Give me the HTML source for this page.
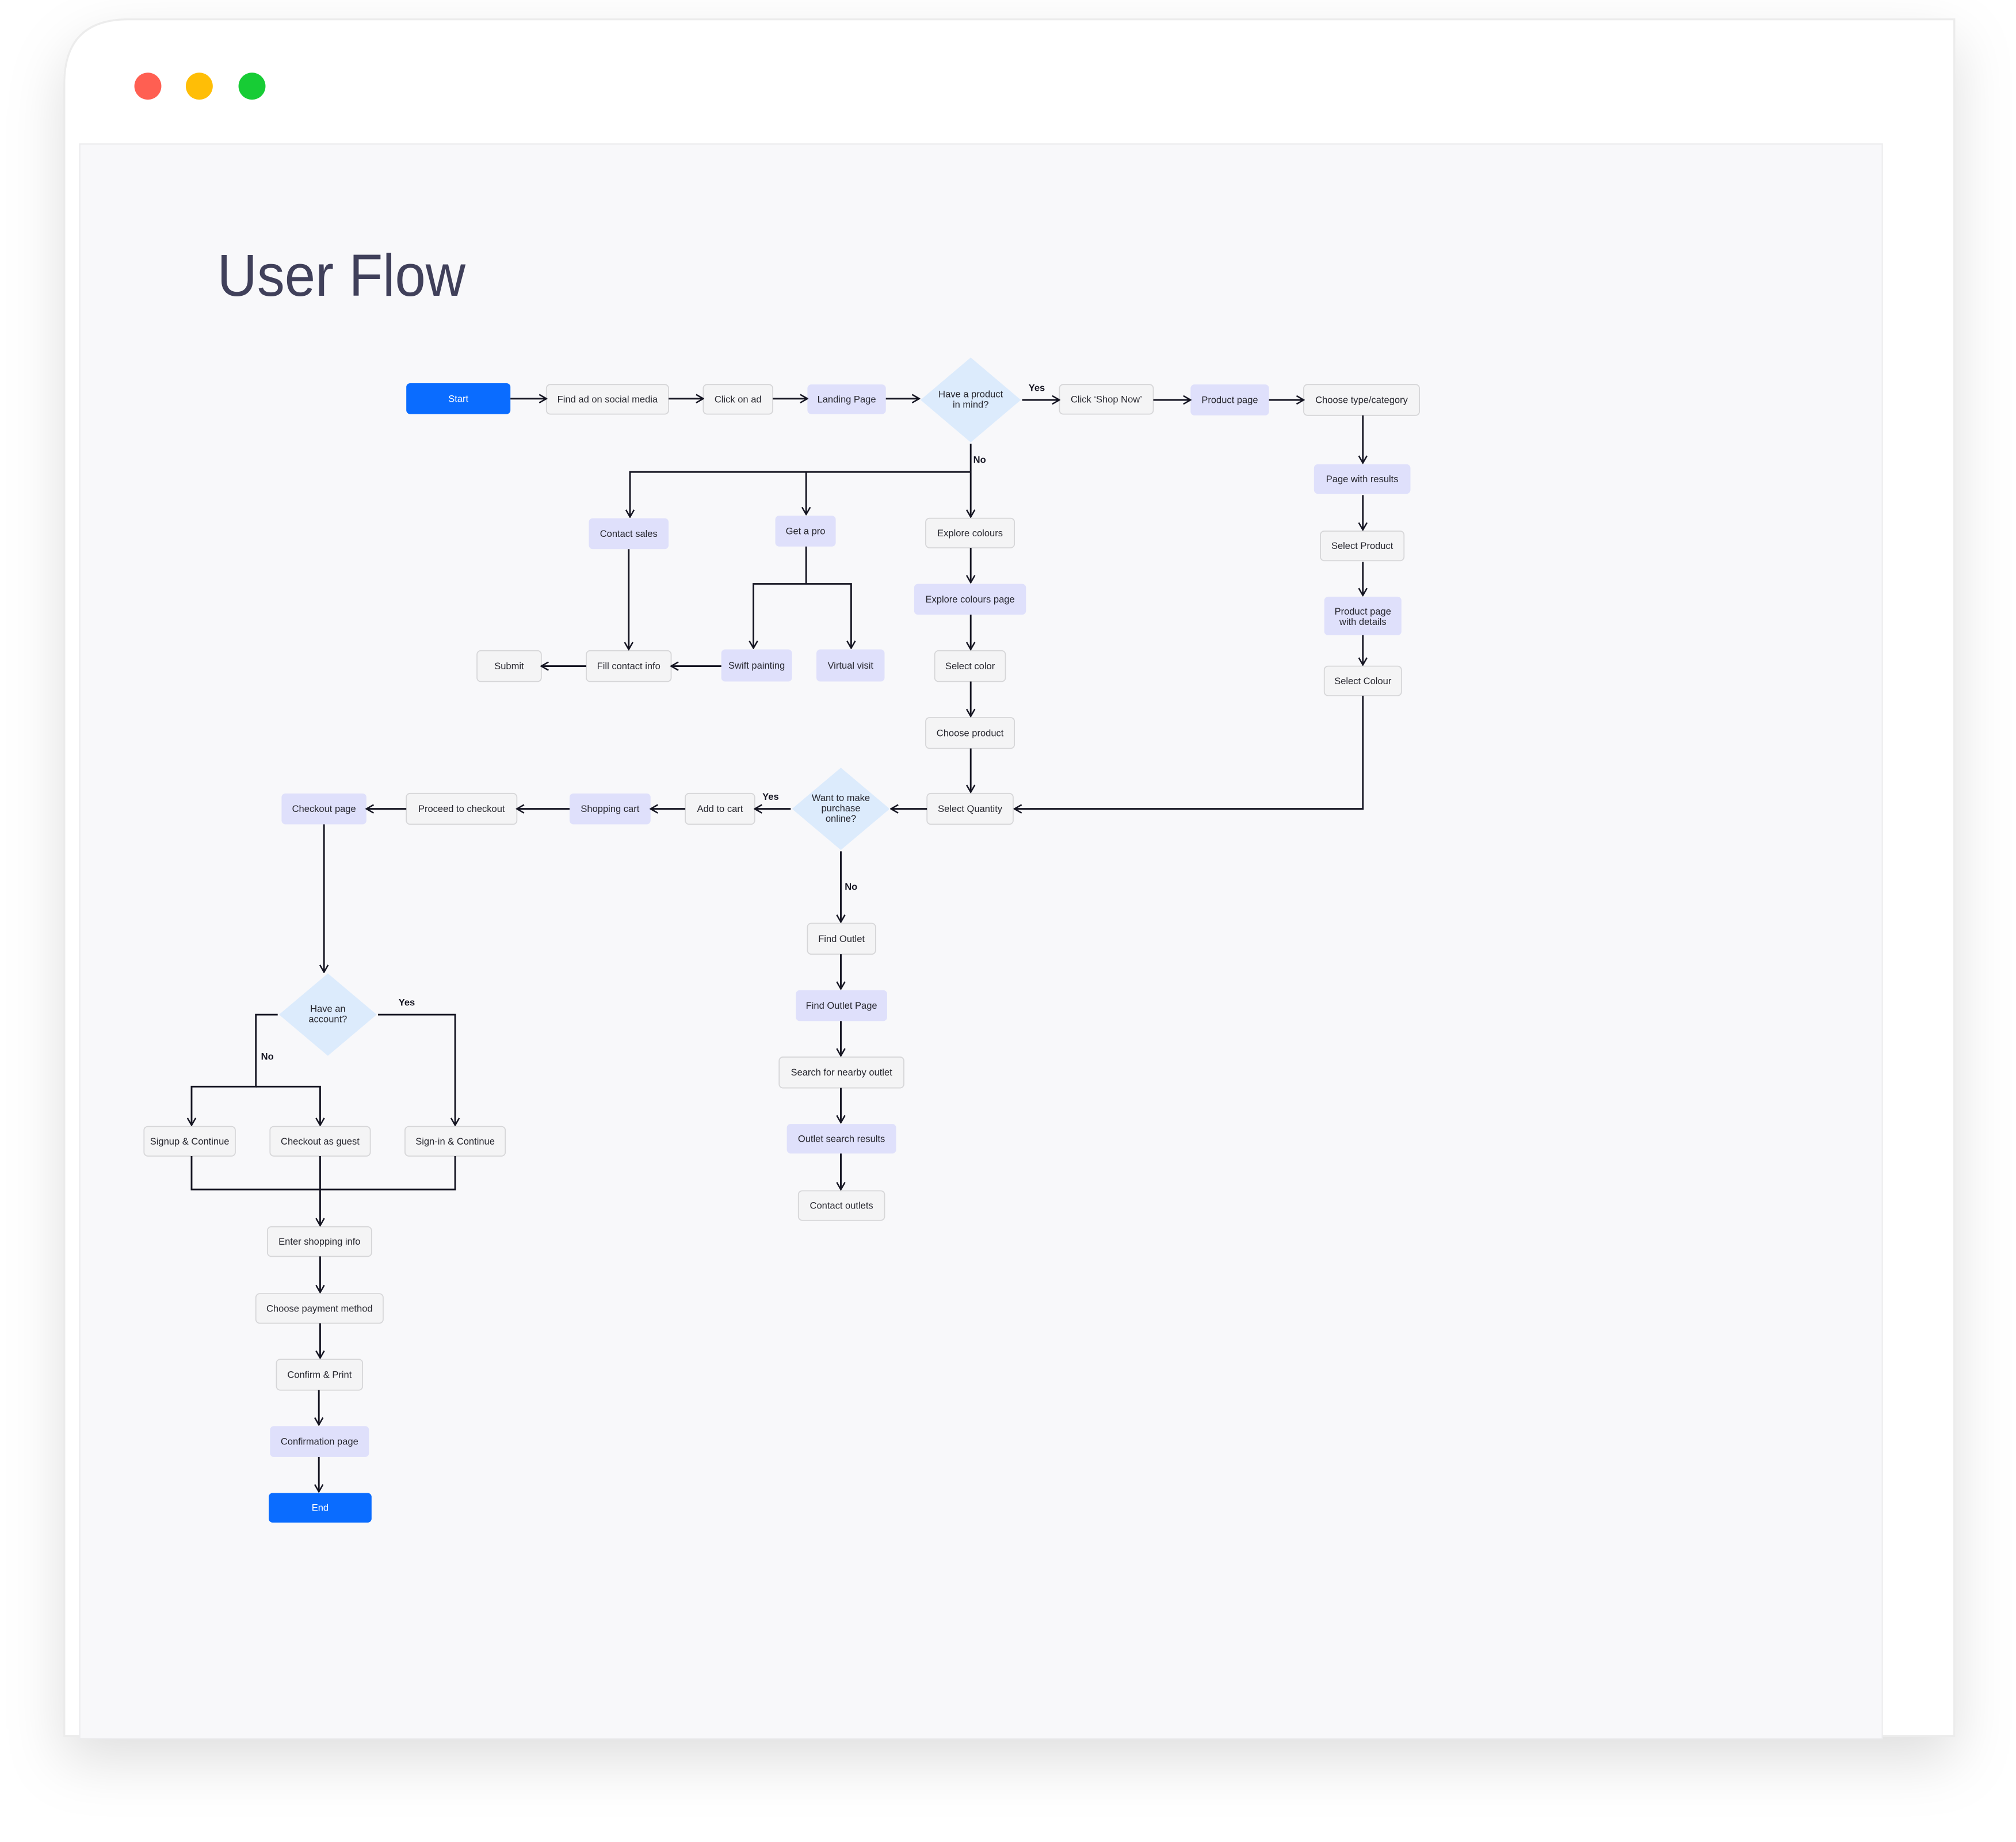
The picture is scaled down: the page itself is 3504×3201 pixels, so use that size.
<!DOCTYPE html>
<html><head><meta charset="utf-8"><style>
html,body{margin:0;padding:0;background:#fff;}
svg{display:block;}
text{font-family:"Liberation Sans",sans-serif;}
</style></head><body>
<svg width="3504" height="3201" viewBox="0 0 1568 1432.4" xmlns="http://www.w3.org/2000/svg">
<defs>
<filter id="sh" x="-10%" y="-10%" width="120%" height="125%">
<feDropShadow dx="0" dy="18" stdDeviation="22" flood-color="#000" flood-opacity="0.13"/>
</filter>
<marker id="a" viewBox="0 0 10 10" refX="9" refY="5" markerWidth="8" markerHeight="8" markerUnits="userSpaceOnUse" orient="auto">
<path d="M2,1 L9,5 L2,9" fill="none" stroke="#151522" stroke-width="1.4"/>
</marker>
<style>
.g{fill:#f4f4f5;stroke:#d6d6d8;stroke-width:0.8}
.l{fill:#dfe0fb}
.b{fill:#0a6cff}
.d{fill:#dcebfc}
.t{font-size:7.4px;fill:#26262e;text-anchor:middle;dominant-baseline:central}
.w{fill:#fff}
.ln{fill:none;stroke:#151522;stroke-width:1.3}
.y{font-size:7.4px;font-weight:bold;fill:#151522}
</style>
</defs>
<rect x="0" y="0" width="1568" height="1432.4" fill="#fff"/>
<path d="M50,1350 L50,65 Q50,15 100,15 L1520,15 L1520,1350 Z" fill="#fff" stroke="#ececec" stroke-width="1.5" filter="url(#sh)"/>
<circle cx="115" cy="67" r="10.5" fill="#ff5f52"/>
<circle cx="155" cy="67" r="10.5" fill="#ffbe06"/>
<circle cx="196" cy="67" r="10.5" fill="#17cc35"/>
<rect x="62" y="112" width="1402" height="1240" fill="#f8f8fa" stroke="#ececee" stroke-width="1"/>
<text x="169" y="230" textLength="193" lengthAdjust="spacingAndGlyphs" style="font-size:46px;fill:#40405a;">User Flow</text>

<!-- Nodes -->
<g>
<rect class="b" x="316" y="298" width="81" height="24" rx="3"/><text class="t w" x="356.5" y="310">Start</text>
<rect class="g" x="425" y="299" width="95" height="23" rx="3"/><text class="t" x="472.5" y="310.5">Find ad on social media</text>
<rect class="g" x="547" y="299" width="54" height="23" rx="3"/><text class="t" x="574" y="310.5">Click on ad</text>
<rect class="l" x="628" y="299" width="61" height="23" rx="3"/><text class="t" x="658.5" y="310.5">Landing Page</text>
<path class="d" d="M755,278 L794,311 L755,344 L716,311 Z"/><text class="t" x="755" y="306.5">Have a product</text><text class="t" x="755" y="314.5">in mind?</text>
<rect class="g" x="824" y="299" width="73" height="23" rx="3"/><text class="t" x="860.5" y="310.5">Click ‘Shop Now’</text>
<rect class="l" x="926" y="299" width="61" height="24" rx="3"/><text class="t" x="956.5" y="311">Product page</text>
<rect class="g" x="1014" y="299" width="90" height="24" rx="3"/><text class="t" x="1059" y="311">Choose type/category</text>
<rect class="l" x="1022" y="361" width="75" height="23" rx="3"/><text class="t" x="1059.5" y="372.5">Page with results</text>
<rect class="g" x="1027" y="413" width="65" height="23" rx="3"/><text class="t" x="1059.5" y="424.5">Select Product</text>
<rect class="l" x="1030" y="464" width="60" height="30" rx="3"/><text class="t" x="1060" y="475.5">Product page</text><text class="t" x="1060" y="483.5">with details</text>
<rect class="g" x="1030" y="518" width="60" height="23" rx="3"/><text class="t" x="1060" y="529.5">Select Colour</text>

<rect class="l" x="458" y="403" width="62" height="24" rx="3"/><text class="t" x="489" y="415">Contact sales</text>
<rect class="l" x="603" y="401" width="47" height="24" rx="3"/><text class="t" x="626.5" y="413">Get a pro</text>
<rect class="g" x="720" y="403" width="69" height="23" rx="3"/><text class="t" x="754.5" y="414.5">Explore colours</text>
<rect class="l" x="711" y="454" width="87" height="24" rx="3"/><text class="t" x="754.5" y="466">Explore colours page</text>
<rect class="g" x="727" y="506" width="55" height="24" rx="3"/><text class="t" x="754.5" y="518">Select color</text>
<rect class="g" x="720" y="558" width="69" height="24" rx="3"/><text class="t" x="754.5" y="570">Choose product</text>
<rect class="g" x="721" y="617" width="67" height="24" rx="3"/><text class="t" x="754.5" y="629">Select Quantity</text>

<rect class="l" x="561" y="505" width="55" height="25" rx="3"/><text class="t" x="588.5" y="517.5">Swift painting</text>
<rect class="l" x="635" y="505" width="53" height="25" rx="3"/><text class="t" x="661.5" y="517.5">Virtual visit</text>
<rect class="g" x="456" y="506" width="66" height="24" rx="3"/><text class="t" x="489" y="518">Fill contact info</text>
<rect class="g" x="371" y="506" width="50" height="24" rx="3"/><text class="t" x="396" y="518">Submit</text>

<path class="d" d="M654,597 L692,629 L654,661 L616,629 Z"/><text class="t" x="654" y="620.5">Want to make</text><text class="t" x="654" y="628.5">purchase</text><text class="t" x="654" y="636.5">online?</text>
<rect class="g" x="533" y="617" width="54" height="24" rx="3"/><text class="t" x="560" y="629">Add to cart</text>
<rect class="l" x="443" y="617" width="63" height="24" rx="3"/><text class="t" x="474.5" y="629">Shopping cart</text>
<rect class="g" x="316" y="617" width="86" height="24" rx="3"/><text class="t" x="359" y="629">Proceed to checkout</text>
<rect class="l" x="219" y="617" width="66" height="24" rx="3"/><text class="t" x="252" y="629">Checkout page</text>

<path class="d" d="M255,757 L293,789 L255,821 L217,789 Z"/><text class="t" x="255" y="784.5">Have an</text><text class="t" x="255" y="792.5">account?</text>
<rect class="g" x="112" y="876" width="71" height="23" rx="3"/><text class="t" x="147.5" y="887.5">Signup &amp; Continue</text>
<rect class="g" x="210" y="876" width="78" height="23" rx="3"/><text class="t" x="249" y="887.5">Checkout as guest</text>
<rect class="g" x="315" y="876" width="78" height="23" rx="3"/><text class="t" x="354" y="887.5">Sign-in &amp; Continue</text>
<rect class="g" x="208" y="954" width="81" height="23" rx="3"/><text class="t" x="248.5" y="965.5">Enter shopping info</text>
<rect class="g" x="199" y="1006" width="99" height="23" rx="3"/><text class="t" x="248.5" y="1017.5">Choose payment method</text>
<rect class="g" x="215" y="1057" width="67" height="24" rx="3"/><text class="t" x="248.5" y="1069">Confirm &amp; Print</text>
<rect class="l" x="210" y="1109" width="77" height="24" rx="3"/><text class="t" x="248.5" y="1121">Confirmation page</text>
<rect class="b" x="209" y="1161" width="80" height="23" rx="3"/><text class="t w" x="249" y="1172.5">End</text>

<rect class="g" x="628" y="718" width="53" height="24" rx="3"/><text class="t" x="654.5" y="730">Find Outlet</text>
<rect class="l" x="619" y="770" width="71" height="24" rx="3"/><text class="t" x="654.5" y="782">Find Outlet Page</text>
<rect class="g" x="606" y="822" width="97" height="24" rx="3"/><text class="t" x="654.5" y="834">Search for nearby outlet</text>
<rect class="l" x="612" y="874" width="85" height="23" rx="3"/><text class="t" x="654.5" y="885.5">Outlet search results</text>
<rect class="g" x="621" y="926" width="67" height="23" rx="3"/><text class="t" x="654.5" y="937.5">Contact outlets</text>
</g>

<!-- Connectors -->
<g class="ln">
<path d="M397,310 H425" marker-end="url(#a)"/>
<path d="M520,310 H547" marker-end="url(#a)"/>
<path d="M601,310 H628" marker-end="url(#a)"/>
<path d="M689,310 H715" marker-end="url(#a)"/>
<path d="M795,311 H824" marker-end="url(#a)"/>
<path d="M897,311 H926" marker-end="url(#a)"/>
<path d="M987,311 H1014" marker-end="url(#a)"/>
<path d="M1060,323 V360" marker-end="url(#a)"/>
<path d="M1060,385 V412" marker-end="url(#a)"/>
<path d="M1060,437 V463" marker-end="url(#a)"/>
<path d="M1060,494 V517" marker-end="url(#a)"/>
<path d="M1060,541 V629 H789" marker-end="url(#a)"/>
<path d="M755,345 V402" marker-end="url(#a)"/>
<path d="M755,367 H490 V402" marker-end="url(#a)"/>
<path d="M627,367 V400" marker-end="url(#a)"/>
<path d="M755,426 V453" marker-end="url(#a)"/>
<path d="M755,478 V505" marker-end="url(#a)"/>
<path d="M755,530 V557" marker-end="url(#a)"/>
<path d="M755,582 V616" marker-end="url(#a)"/>
<path d="M627,425 V454 H586 V504" marker-end="url(#a)"/>
<path d="M627,454 H662 V504" marker-end="url(#a)"/>
<path d="M489,427 V505" marker-end="url(#a)"/>
<path d="M561,518 H522" marker-end="url(#a)"/>
<path d="M456,518 H421" marker-end="url(#a)"/>
<path d="M721,629 H693" marker-end="url(#a)"/>
<path d="M615,629 H587" marker-end="url(#a)"/>
<path d="M533,629 H506" marker-end="url(#a)"/>
<path d="M443,629 H402" marker-end="url(#a)"/>
<path d="M316,629 H285" marker-end="url(#a)"/>
<path d="M252,641 V756" marker-end="url(#a)"/>
<path d="M216,789 H199 V845 H149 V875" marker-end="url(#a)"/>
<path d="M199,845 H249 V875" marker-end="url(#a)"/>
<path d="M294,789 H354 V875" marker-end="url(#a)"/>
<path d="M149,899 V925 H354 V899"/>
<path d="M249,899 V953" marker-end="url(#a)"/>
<path d="M249,977 V1005" marker-end="url(#a)"/>
<path d="M249,1029 V1056" marker-end="url(#a)"/>
<path d="M248,1081 V1108" marker-end="url(#a)"/>
<path d="M248,1133 V1160" marker-end="url(#a)"/>
<path d="M654,662 V717" marker-end="url(#a)"/>
<path d="M654,742 V769" marker-end="url(#a)"/>
<path d="M654,794 V821" marker-end="url(#a)"/>
<path d="M654,846 V873" marker-end="url(#a)"/>
<path d="M654,897 V925" marker-end="url(#a)"/>
</g>
<text class="y" x="800" y="304">Yes</text>
<text class="y" x="757" y="360">No</text>
<text class="y" x="593" y="622">Yes</text>
<text class="y" x="657" y="692">No</text>
<text class="y" x="203" y="824">No</text>
<text class="y" x="310" y="782">Yes</text>
</svg>
</body></html>
